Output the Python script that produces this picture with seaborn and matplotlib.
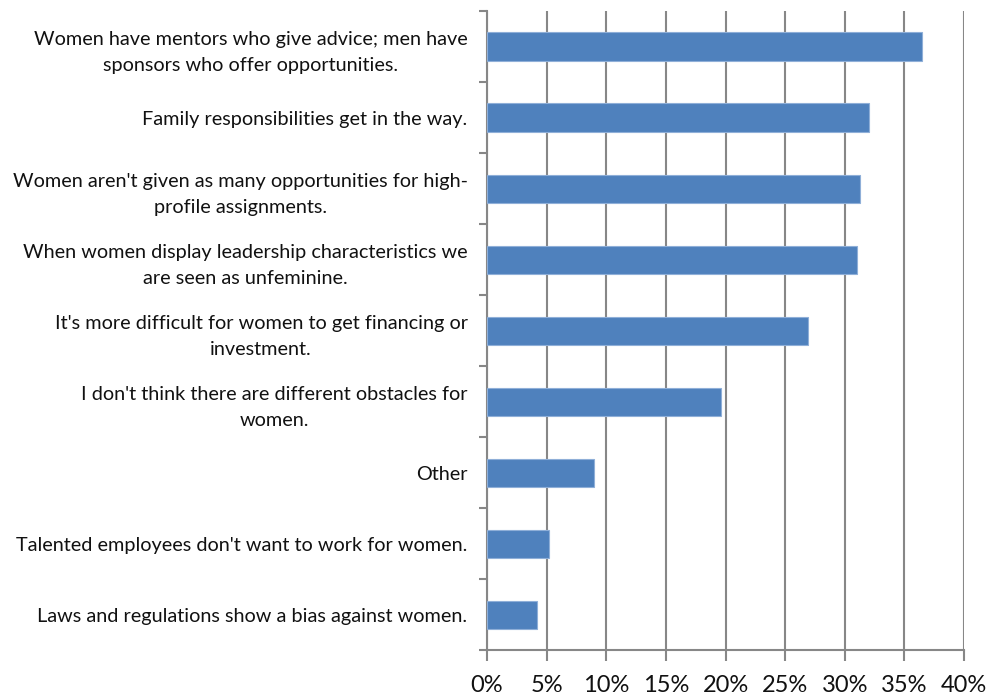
import matplotlib
matplotlib.use("Agg")
import matplotlib.pyplot as plt
import seaborn as sns
import pandas as pd
from matplotlib.ticker import FixedLocator, PercentFormatter

# Survey answers, top to bottom
categories = [
    "Women have mentors who give advice; men have\nsponsors who offer opportunities.",
    "Family responsibilities get in the way.",
    "Women aren't given as many opportunities for high-\nprofile assignments.",
    "When women display leadership characteristics we\nare seen as unfeminine.",
    "It's more difficult for women to get financing or\ninvestment.",
    "I don't think there are different obstacles for\nwomen.",
    "Other",
    "Talented employees don't want to work for women.",
    "Laws and regulations show a bias against women.",
]
shares = [36.5, 32.0, 31.3, 31.0, 26.9, 19.6, 9.0, 5.2, 4.2]
x_ticks = [0, 5, 10, 15, 20, 25, 30, 35, 40]

df = pd.DataFrame({"answer": categories, "share": shares})

sns.set_theme(style="white")
plt.rcParams["font.family"] = ["Lato", "DejaVu Sans"]

fig = plt.figure(figsize=(10.05, 6.96), dpi=100)
ax = fig.add_axes([0.4846, 0.0654, 0.4746, 0.9186])

grid_color = "#878787"

sns.barplot(data=df, x="share", y="answer", orient="h", order=categories,
            color="#4F81BD", saturation=1, width=0.4,
            edgecolor="#8FAFD8", linewidth=0.8, ax=ax, zorder=3)

ax.set_xlim(0, 40)
ax.set_ylim(len(categories) - 0.5, -0.5)
ax.xaxis.set_major_locator(FixedLocator(x_ticks))
ax.xaxis.set_major_formatter(PercentFormatter(decimals=0))
ax.grid(axis="x", color=grid_color, linewidth=1.5, zorder=0)
ax.set_axisbelow(True)

ax.set_xlabel("")
ax.set_ylabel("")

# category boundary ticks on the vertical axis
ax.yaxis.set_minor_locator(FixedLocator([i - 0.5 for i in range(len(categories) + 1)]))
ax.tick_params(axis="y", which="major", length=0, pad=14, labelsize=14.3, labelcolor="#111111")
ax.tick_params(axis="y", which="minor", length=6, width=1.5, color=grid_color, left=True)
ax.tick_params(axis="x", which="major", length=8, width=1.5, color=grid_color,
               bottom=True, labelsize=17, pad=10, labelcolor="#111111")
for lbl in ax.get_yticklabels():
    lbl.set_multialignment("center")
    lbl.set_linespacing(1.6)

for side in ["top", "right"]:
    ax.spines[side].set_visible(False)
for side in ["left", "bottom"]:
    ax.spines[side].set_color(grid_color)
    ax.spines[side].set_linewidth(1.5)

fig.savefig("out.png", dpi=100)
